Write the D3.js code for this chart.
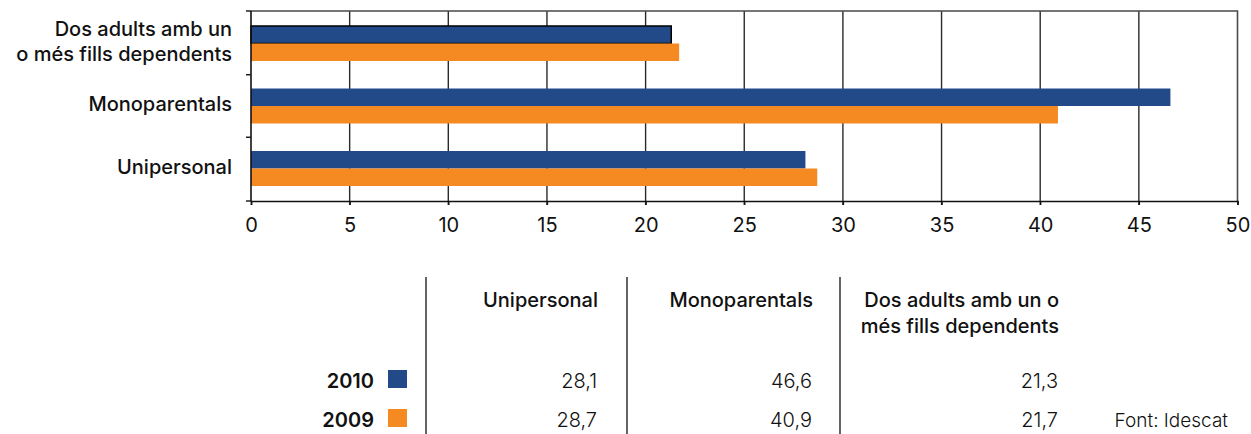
<!DOCTYPE html>
<html><head><meta charset="utf-8">
<script src="https://cdn.jsdelivr.net/npm/d3@7"></script>
<style>
html,body{margin:0;padding:0;background:#fff;}
svg{display:block;}
text{font-family:"Inter","Liberation Sans",Arial,sans-serif;fill:#111;}
</style></head>
<body>
<svg id="chart" width="1251" height="434"></svg>
<script>
// ---- data ----
const categories = ["Dos adults amb un o més fills dependents", "Monoparentals", "Unipersonal"];
const categoryLabelLines = [["Dos adults amb un", "o més fills dependents"], ["Monoparentals"], ["Unipersonal"]];
const tableCategories = ["Unipersonal", "Monoparentals", "Dos adults amb un o més fills dependents"];
const tableHeaderLines = [["Unipersonal"], ["Monoparentals"], ["Dos adults amb un o", "més fills dependents"]];
const seriesNames = ["2010", "2009"];
const values2010 = {"Unipersonal": 28.1, "Monoparentals": 46.6, "Dos adults amb un o més fills dependents": 21.3};
const values2009 = {"Unipersonal": 28.7, "Monoparentals": 40.9, "Dos adults amb un o més fills dependents": 21.7};
const xTicks = [0, 5, 10, 15, 20, 25, 30, 35, 40, 45, 50];
const source = "Font: Idescat";

const colors = {"2010": "#224a88", "2009": "#f58a22"};
const seriesValues = {"2010": values2010, "2009": values2009};

const svg = d3.select("#chart");
const plot = {left: 251, right: 1237.5, top: 11, bottom: 201};

const x = d3.scaleLinear().domain([0, 50]).range([plot.left, plot.right]);
const y = d3.scaleBand().domain(categories).range([plot.top, plot.bottom]).paddingInner(0.44).paddingOuter(0.24);
const ySub = d3.scaleBand().domain(seriesNames).range([0, y.bandwidth()]);

// gridlines
svg.append("g").selectAll("line").data(xTicks.filter(d => d > 0 && d < 50)).join("line")
  .attr("x1", d => x(d)).attr("x2", d => x(d))
  .attr("y1", plot.top).attr("y2", plot.bottom + 4)
  .attr("stroke", "#2a2a2a").attr("stroke-width", 1.4);

// top and right border
svg.append("path")
  .attr("d", `M${plot.left},${plot.top}H${plot.right}V${plot.bottom}`)
  .attr("fill", "none").attr("stroke", "#4a4a4a").attr("stroke-width", 1.6);

// bars
const groups = svg.append("g").selectAll("g").data(categories).join("g")
  .attr("transform", d => `translate(0,${y(d)})`);
groups.selectAll("rect").data(c => seriesNames.map(s => ({c, s, v: seriesValues[s][c]}))).join("rect")
  .attr("x", x(0))
  .attr("y", d => ySub(d.s))
  .attr("width", d => x(d.v) - x(0))
  .attr("height", ySub.bandwidth())
  .attr("fill", d => colors[d.s])
  .attr("stroke", d => (d.c === categories[0] && d.s === "2010") ? "#000" : "none")
  .attr("stroke-width", 1.5);

// x axis
const xAxis = d3.axisBottom(x).tickValues(xTicks).tickSize(4).tickPadding(8).tickFormat(d3.format("d"));
const gx = svg.append("g").attr("transform", `translate(0,${plot.bottom})`).call(xAxis);
gx.select(".domain").attr("stroke", "#111").attr("stroke-width", 1.6);
gx.selectAll(".tick line").attr("stroke", "#111").attr("stroke-width", 1.4);
gx.selectAll("text").attr("font-size", 20).attr("fill", "#111").attr("dy", null).attr("y", 31);

// y axis line + ticks at band boundaries
const boundaries = [plot.top].concat(categories.map(c => y(c) + y.bandwidth() + y.step() * y.paddingInner() / 2));
boundaries[boundaries.length - 1] = plot.bottom;
svg.append("line").attr("x1", plot.left).attr("x2", plot.left).attr("y1", plot.top).attr("y2", plot.bottom)
  .attr("stroke", "#111").attr("stroke-width", 1.6);
svg.append("g").selectAll("line").data(boundaries).join("line")
  .attr("x1", plot.left - 5).attr("x2", plot.left).attr("y1", d => d).attr("y2", d => d)
  .attr("stroke", "#111").attr("stroke-width", 1.4);

// category labels
svg.append("g").selectAll("text").data(categories).join("text")
  .attr("text-anchor", "end")
  .attr("font-size", 20).attr("font-weight", 500)
  .each(function (c, i) {
    const lines = categoryLabelLines[i];
    const cy = y(c) + y.bandwidth() / 2 + 5;
    const t = d3.select(this);
    lines.forEach((ln, j) => {
      t.append("tspan").attr("x", 232).attr("y", cy + (j - (lines.length - 1) / 2) * 25).text(ln);
    });
  });

// ---- data table ----
const fmt = d3.formatLocale({decimal: ",", thousands: ".", grouping: [3], currency: ["", "€"]}).format(".1f");
const colRight = [598, 813, 1059];
const sepX = [426, 627, 840];
svg.append("g").selectAll("line").data(sepX).join("line")
  .attr("x1", d => d).attr("x2", d => d).attr("y1", 277).attr("y2", 434)
  .attr("stroke", "#111").attr("stroke-width", 1.3);

svg.append("g").selectAll("text").data(tableCategories).join("text")
  .attr("text-anchor", "end").attr("font-size", 20).attr("font-weight", 500)
  .each(function (c, i) {
    const t = d3.select(this);
    tableHeaderLines[i].forEach((ln, j) => {
      t.append("tspan").attr("x", colRight[i]).attr("y", 307 + j * 26).text(ln);
    });
  });

const rowY = {"2010": 388, "2009": 427};
seriesNames.forEach(s => {
  svg.append("text").attr("x", 374).attr("y", rowY[s]).attr("text-anchor", "end")
    .attr("font-size", 20).attr("font-weight", 600).text(s);
  svg.append("rect").attr("x", 388).attr("y", rowY[s] - 18).attr("width", 19).attr("height", 18)
    .attr("fill", colors[s]);
  svg.append("g").selectAll("text").data(tableCategories).join("text")
    .attr("x", (c, i) => colRight[i] - 1).attr("y", rowY[s]).attr("text-anchor", "end")
    .attr("font-size", 20).attr("font-weight", 300).attr("fill", "#222")
    .text(c => fmt(seriesValues[s][c]));
});

svg.append("text").attr("x", 1228).attr("y", 427).attr("text-anchor", "end")
  .attr("font-size", 19).attr("font-weight", 300).attr("fill", "#222").text(source);
</script>
</body></html>
